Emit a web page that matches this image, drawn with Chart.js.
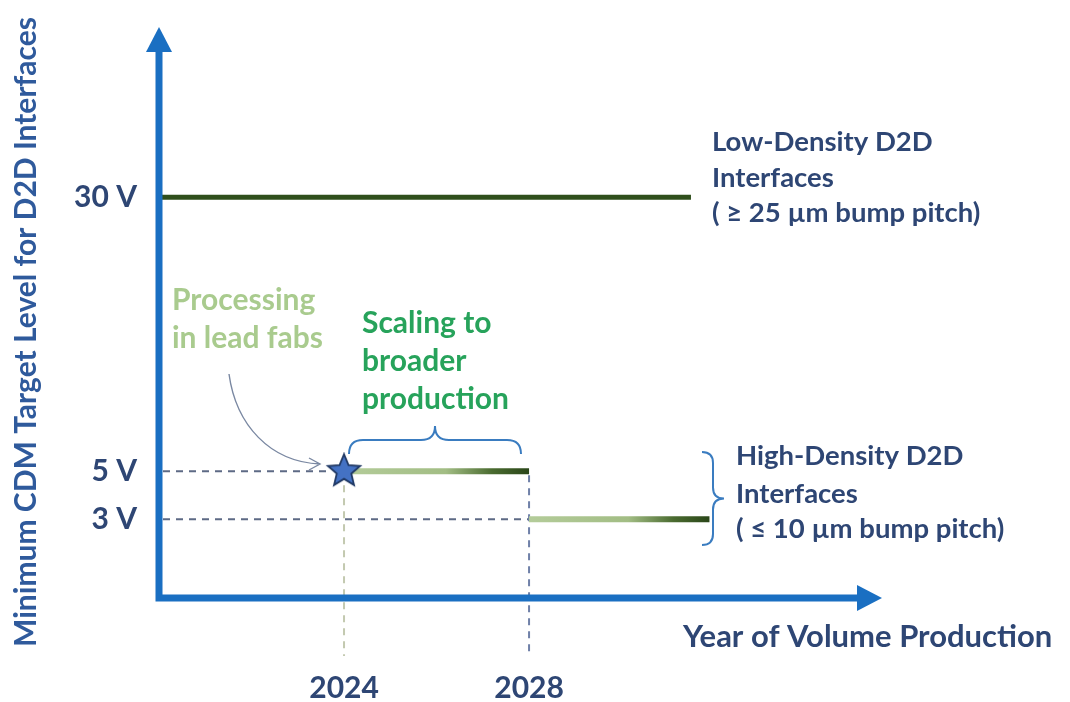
<!DOCTYPE html>
<html>
<head>
<meta charset="utf-8">
<script src="https://cdn.jsdelivr.net/npm/chart.js@4.4.1/dist/chart.umd.min.js"></script>
<style>
  html, body { margin: 0; padding: 0; background: #fff; }
  #wrap { width: 1070px; height: 702px; }
</style>
</head>
<body>
<div id="wrap"><canvas id="chart"></canvas></div>
<script>
// CDM target levels and the years each interface class runs
const levelTicks = [3, 5, 30];
const yearTicks = [2024, 2028];
const segStart = [2020, 2024, 2028];
const segEnd = [2031.5, 2028, 2031.9];
const segVolts = [30, 5, 3];
const leadFab = { x: 2024, y: 5 };

const AXIS_BLUE = '#1a6fc2';
const INK = '#2e4674';

// value -> fraction of plot height; low voltages get stretched out
const bendStops = [[0, 0], [3, 0.138], [5, 0.222], [30, 0.702], [40, 1]];
function bend(v) {
  for (let i = 1; i < bendStops.length; i++) {
    const [v0, f0] = bendStops[i - 1], [v1, f1] = bendStops[i];
    if (v <= v1 || i === bendStops.length - 1) return f0 + (v - v0) / (v1 - v0) * (f1 - f0);
  }
}
function unbend(f) {
  for (let i = 1; i < bendStops.length; i++) {
    const [v0, f0] = bendStops[i - 1], [v1, f1] = bendStops[i];
    if (f <= f1 || i === bendStops.length - 1) return v0 + (f - f0) / (f1 - f0) * (v1 - v0);
  }
}

class LevelScale extends Chart.LinearScale {
  getPixelForValue(v) { return this.getPixelForDecimal(bend(v)); }
  getValueForPixel(p) { return unbend(this.getDecimalForPixel(p)); }
}
LevelScale.id = 'level';
LevelScale.defaults = Chart.LinearScale.defaults;
Chart.register(LevelScale);

// filled five point star for the lead-fab marker
function makeStar(r) {
  const c = document.createElement('canvas');
  c.width = c.height = r * 2 + 4;
  const g = c.getContext('2d');
  g.beginPath();
  for (let i = 0; i < 10; i++) {
    const rad = i % 2 ? r * 0.45 : r;
    const a = -Math.PI / 2 + i * Math.PI / 5;
    g.lineTo(r + 2 + rad * Math.cos(a), r + 2 + rad * Math.sin(a));
  }
  g.closePath();
  g.fillStyle = '#4472c4';
  g.fill();
  g.lineWidth = 1.8;
  g.strokeStyle = '#1f3864';
  g.stroke();
  return c;
}

// light green fading into dark green along a segment
function fade(start, end) {
  return ctx => {
    const c = ctx.chart;
    if (!c.chartArea) return '#7a9a5a';
    const xs = c.scales.x;
    const g = c.ctx.createLinearGradient(xs.getPixelForValue(start), 0, xs.getPixelForValue(end), 0);
    g.addColorStop(0, '#b4cc9a');
    g.addColorStop(0.55, '#a2bd84');
    g.addColorStop(0.8, '#4a6b30');
    g.addColorStop(1, '#2a4619');
    return g;
  };
}

const datasets = segVolts.map((v, i) => ({
  data: [{ x: segStart[i], y: v }, { x: segEnd[i], y: v }],
  borderColor: i === 0 ? '#2f4f1c' : fade(segStart[i], segEnd[i]),
  borderWidth: i === 0 ? 5 : 6,
  borderCapStyle: 'butt',
  pointRadius: 0,
  order: 1
}));
datasets.push({
  data: [leadFab],
  pointStyle: makeStar(17),
  showLine: false,
  order: 0
});

function txt(ctx, s, x, y, font, color, align) {
  ctx.font = font;
  ctx.fillStyle = color;
  ctx.textAlign = align || 'left';
  ctx.textBaseline = 'middle';
  ctx.fillText(s, x, y);
}

// curly brace lying flat, tip pointing up
function braceUp(ctx, x0, x1, y, h) {
  const m = (x0 + x1) / 2;
  ctx.beginPath();
  ctx.moveTo(x0, y + h);
  ctx.quadraticCurveTo(x0, y, x0 + h, y);
  ctx.lineTo(m - h, y);
  ctx.quadraticCurveTo(m, y, m, y - h);
  ctx.quadraticCurveTo(m, y, m + h, y);
  ctx.lineTo(x1 - h, y);
  ctx.quadraticCurveTo(x1, y, x1, y + h);
  ctx.stroke();
}

// upright curly brace, tip pointing right
function braceRight(ctx, x, y0, y1, w) {
  const m = (y0 + y1) / 2;
  ctx.beginPath();
  ctx.moveTo(x - w, y0);
  ctx.quadraticCurveTo(x, y0, x, y0 + w);
  ctx.lineTo(x, m - w);
  ctx.quadraticCurveTo(x, m, x + w, m);
  ctx.quadraticCurveTo(x, m, x, m + w);
  ctx.lineTo(x, y1 - w);
  ctx.quadraticCurveTo(x, y1, x - w, y1);
  ctx.stroke();
}

const notes = {
  id: 'notes',
  beforeDatasetsDraw(chart) {
    const { ctx, chartArea: a, scales: { x, y } } = chart;
    const x24 = x.getPixelForValue(yearTicks[0]);
    const x28 = x.getPixelForValue(yearTicks[1]);
    const y5 = y.getPixelForValue(5);
    const y3 = y.getPixelForValue(3);
    ctx.save();
    ctx.lineWidth = 2;
    ctx.setLineDash([7, 6]);
    ctx.strokeStyle = '#5d6a85';
    ctx.beginPath();
    ctx.moveTo(a.left + 4, y5); ctx.lineTo(x24 - 16, y5);
    ctx.moveTo(a.left + 4, y3); ctx.lineTo(x28, y3);
    ctx.stroke();
    ctx.strokeStyle = '#c3c9b0';
    ctx.beginPath();
    ctx.moveTo(x24, y5 + 14); ctx.lineTo(x24, a.bottom + 58);
    ctx.stroke();
    ctx.strokeStyle = '#6f80a8';
    ctx.beginPath();
    ctx.moveTo(x28, y5 + 4); ctx.lineTo(x28, a.bottom + 58);
    ctx.stroke();
    ctx.restore();
  },
  afterDatasetsDraw(chart) {
    const { ctx, chartArea: a } = chart;
    ctx.save();
    // axes with arrow heads
    ctx.strokeStyle = AXIS_BLUE;
    ctx.fillStyle = AXIS_BLUE;
    ctx.lineWidth = 7;
    ctx.beginPath();
    ctx.moveTo(a.left, a.bottom + 3.5);
    ctx.lineTo(a.left, a.top + 24);
    ctx.moveTo(a.left - 3.5, a.bottom);
    ctx.lineTo(a.right - 24, a.bottom);
    ctx.stroke();
    ctx.beginPath();
    ctx.moveTo(a.left, a.top);
    ctx.lineTo(a.left + 13, a.top + 25);
    ctx.lineTo(a.left - 13, a.top + 25);
    ctx.closePath();
    ctx.fill();
    ctx.beginPath();
    ctx.moveTo(a.right, a.bottom);
    ctx.lineTo(a.right - 25, a.bottom - 13);
    ctx.lineTo(a.right - 25, a.bottom + 13);
    ctx.closePath();
    ctx.fill();

    // braces
    ctx.strokeStyle = '#3a7cc0';
    ctx.lineWidth = 2;
    braceUp(ctx, 349, 521, 440, 14);
    braceRight(ctx, 713, 452, 545, 11);

    // curved pointer to the star
    ctx.strokeStyle = '#7a88a2';
    ctx.lineWidth = 1.4;
    ctx.beginPath();
    ctx.moveTo(229, 374);
    ctx.bezierCurveTo(236, 425, 270, 462, 320, 464);
    ctx.moveTo(309, 458); ctx.lineTo(320, 464); ctx.lineTo(309, 470);
    ctx.stroke();

    // titles and notes
    ctx.save();
    ctx.translate(26, 332);
    ctx.rotate(-Math.PI / 2);
    txt(ctx, 'Minimum CDM Target Level for D2D Interfaces', 0, 0, 'bold 30px Lato', '#2f5a9c', 'center');
    ctx.restore();
    txt(ctx, 'Year of Volume Production', 683, 637, 'bold 31px Lato', INK);

    const f1 = 'bold 27.5px Lato';
    txt(ctx, 'Low-Density D2D', 712, 142, f1, INK);
    txt(ctx, 'Interfaces', 712, 178, f1, INK);
    txt(ctx, '( \u2265 25 \u00b5m bump pitch)', 712, 213, f1, INK);
    txt(ctx, 'High-Density D2D', 736, 456, f1, INK);
    txt(ctx, 'Interfaces', 736, 494, f1, INK);
    txt(ctx, '( \u2264 10 \u00b5m bump pitch)', 736, 529, f1, INK);

    const f2 = 'bold 30px Lato';
    txt(ctx, 'Processing', 172, 300, f2, '#a9cb8e');
    txt(ctx, 'in lead fabs', 172, 338, f2, '#a9cb8e');
    txt(ctx, 'Scaling to', 362, 323, f2, '#27a35b');
    txt(ctx, 'broader', 362, 361, f2, '#27a35b');
    txt(ctx, 'production', 362, 399, f2, '#27a35b');
    ctx.restore();
  }
};

const tickFont = { family: 'Lato', weight: 'bold', size: 30 };

new Chart(document.getElementById('chart'), {
  type: 'line',
  data: { datasets },
  options: {
    responsive: true,
    maintainAspectRatio: false,
    animation: false,
    layout: { padding: { top: 27, right: 188, left: 0, bottom: 0 } },
    plugins: { legend: { display: false }, tooltip: { enabled: false } },
    scales: {
      x: {
        type: 'linear',
        min: 2020,
        max: 2035.63,
        grid: { display: false, drawTicks: false },
        border: { display: false },
        afterBuildTicks: s => { s.ticks = yearTicks.map(v => ({ value: v })); },
        afterFit: s => { s.height = 104; s.paddingLeft = 0; s.paddingRight = 0; },
        ticks: { callback: v => String(v), padding: 72, color: INK, font: tickFont, maxRotation: 0, autoSkip: false }
      },
      y: {
        type: 'level',
        min: 0,
        max: 40,
        grid: { display: false, drawTicks: false },
        border: { display: false },
        afterBuildTicks: s => { s.ticks = levelTicks.map(v => ({ value: v })); },
        afterFit: s => { s.width = 159; s.paddingTop = 0; s.paddingBottom = 0; },
        ticks: { callback: v => v + ' V', padding: 22, color: INK, font: tickFont, autoSkip: false }
      }
    }
  },
  plugins: [notes]
});
</script>
</body>
</html>
